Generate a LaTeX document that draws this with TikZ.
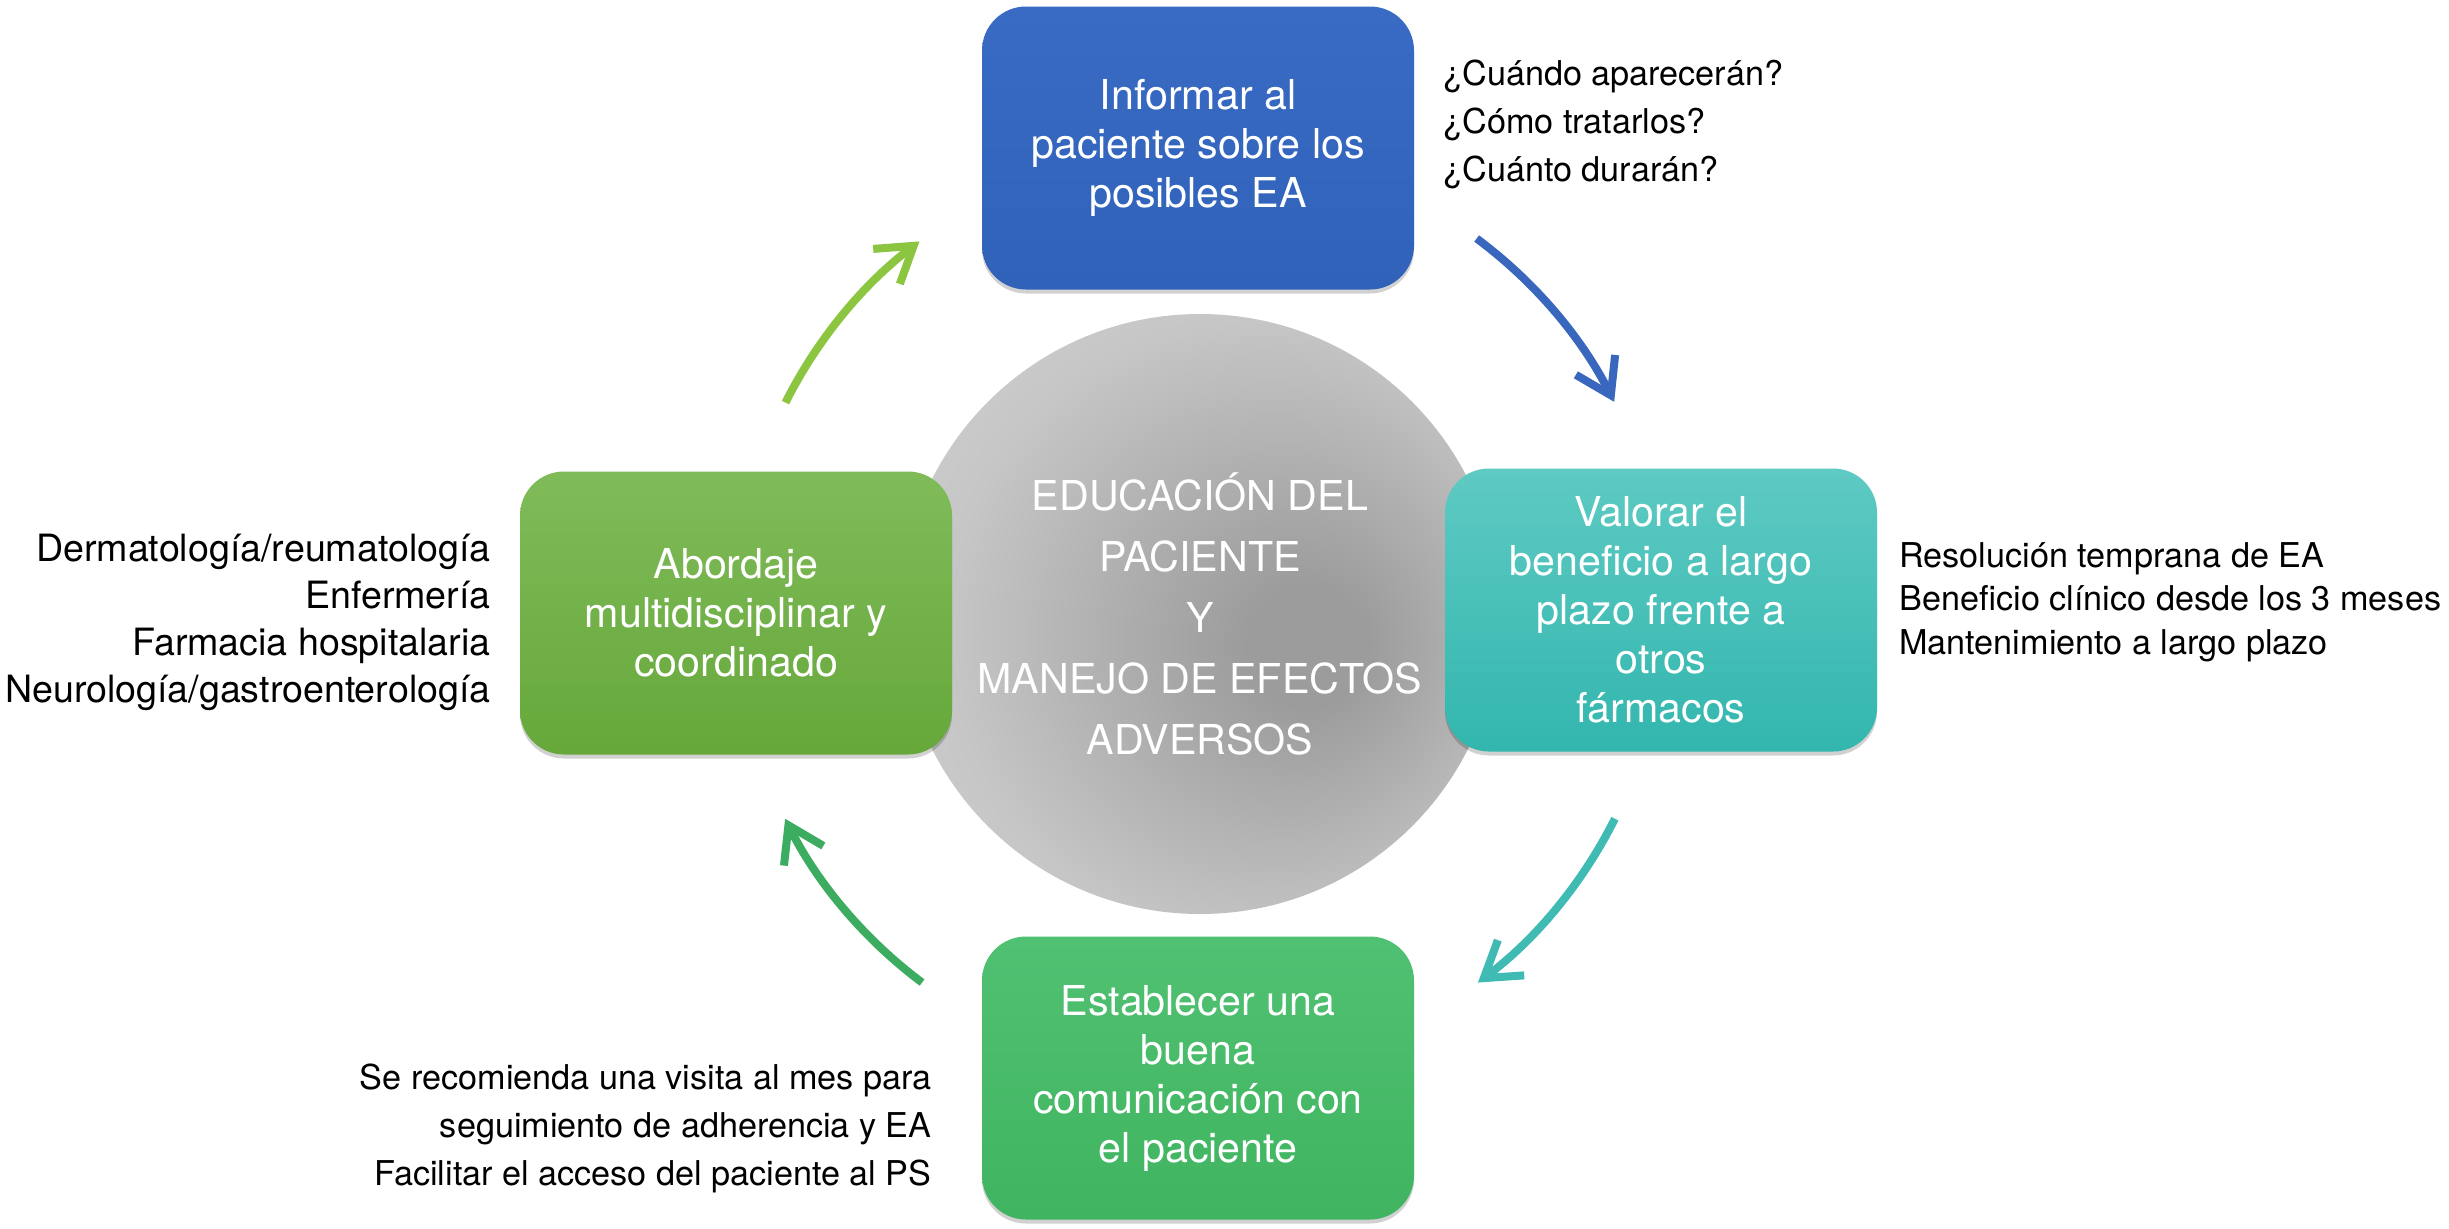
\documentclass[tikz,border=0pt]{standalone}
\usepackage{fontspec}
\setmainfont{TeX Gyre Heros}
\usetikzlibrary{arrows.meta,shadows,calc}

\definecolor{blueTop}{RGB}{57,107,196}
\definecolor{blueBot}{RGB}{49,98,186}
\definecolor{tealTop}{RGB}{94,202,195}
\definecolor{tealBot}{RGB}{50,182,174}
\definecolor{lgTop}{RGB}{128,187,90}
\definecolor{lgBot}{RGB}{102,168,58}
\definecolor{bgTop}{RGB}{80,193,114}
\definecolor{bgBot}{RGB}{64,180,96}
\definecolor{arrBlue}{RGB}{58,103,190}
\definecolor{arrLight}{RGB}{140,198,65}
\definecolor{arrTeal}{RGB}{63,187,180}
\definecolor{arrGreen}{RGB}{60,172,96}
\definecolor{hubA}{RGB}{156,156,156}
\definecolor{hubB}{RGB}{198,198,198}
\definecolor{hubC}{RGB}{216,216,216}
\definecolor{hubD}{RGB}{222,222,222}

\pgfdeclareradialshading{hubshade}{\pgfpoint{10bp}{-3bp}}{%
  color(0bp)=(hubA); color(5bp)=(hubA); color(26bp)=(hubB); color(42bp)=(hubC); color(50bp)=(hubD)}

\tikzset{
  boxstyle/.style={rounded corners=22pt, minimum width=216pt, minimum height=141.5pt,
    inner sep=0pt, align=center, text=white,
    font=\fontsize{20.6pt}{24.5pt}\selectfont,
    drop shadow={shadow xshift=0pt, shadow yshift=-2pt, opacity=0.18, fill=black}},
  hubstyle/.style={circle, minimum size=300pt, inner sep=0pt, shading=hubshade,
    align=center, text=white, font=\fontsize{20.6pt}{30.6pt}\selectfont},
  sidetext/.style={inner sep=0pt, text=black, font=\fontsize{17.1pt}{20pt}\selectfont},
  lefttext/.style={inner sep=0pt, text=black, font=\fontsize{18.8pt}{22pt}\selectfont},
  arrowline/.style={line width=4pt, line cap=butt,
    -{Straight Barb[sharp, length=17pt, width=22pt]}}
}

\begin{document}
\begin{tikzpicture}[x=0.5pt, y=-0.5pt]
\fill[white] (0,0) rectangle (2449,1228);
\useasboundingbox (0,0) rectangle (2449,1228);

% central hub
\node[hubstyle] (hub) at (1200,614) {EDUCACIÓN DEL\\PACIENTE\\Y\\MANEJO DE EFECTOS\\ADVERSOS};

% boxes
\node[boxstyle, top color=blueTop, bottom color=blueBot] (info) at (1198,148)
  {Informar al\\paciente sobre los\\posibles EA};
\node[boxstyle, top color=tealTop, bottom color=tealBot] (valor) at (1661,610)
  {Valorar el\\beneficio a largo\\plazo frente a\\otros\\fármacos};
\node[boxstyle, top color=lgTop, bottom color=lgBot] (abord) at (736,613)
  {Abordaje\\multidisciplinar y\\coordinado};
\node[boxstyle, top color=bgTop, bottom color=bgBot] (estab) at (1198,1078)
  {Establecer una\\buena\\comunicación con\\el paciente};

% arrows (arcs around the hub)
\draw[arrowline, arrBlue] ($(hub.center)+(0,1.5pt)+(53.4:232pt)$) arc[start angle=53.4, end angle=26.8, radius=232pt];
\draw[arrowline, arrTeal] ($(hub.center)+(0,1.5pt)+(-26.6:232pt)$) arc[start angle=-26.6, end angle=-53.2, radius=232pt];
\draw[arrowline, arrGreen] ($(hub.center)+(0,1.5pt)+(-126.8:232pt)$) arc[start angle=-126.8, end angle=-153.4, radius=232pt];
\draw[arrowline, arrLight] ($(hub.center)+(0,1.5pt)+(153.3:232pt)$) arc[start angle=153.3, end angle=127.2, radius=232pt];

% top-right questions
\node[sidetext, anchor=base west] (q1) at (1443,85) {¿Cuándo aparecerán?};
\node[sidetext, anchor=base west] (q2) at (1443,133) {¿Cómo tratarlos?};
\node[sidetext, anchor=base west] (q3) at (1443,181) {¿Cuánto durarán?};

% right notes
\node[sidetext, anchor=base west] (r1) at (1899,567) {Resolución temprana de EA};
\node[sidetext, anchor=base west] (r2) at (1899,610) {Beneficio clínico desde los 3 meses};
\node[sidetext, anchor=base west] (r3) at (1899,654) {Mantenimiento a largo plazo};

% left notes
\node[lefttext, anchor=base east] (l1) at (491,561) {Dermatología/reumatología};
\node[lefttext, anchor=base east] (l2) at (491,608) {Enfermería};
\node[lefttext, anchor=base east] (l3) at (491,655) {Farmacia hospitalaria};
\node[lefttext, anchor=base east] (l4) at (491,702) {Neurología/gastroenterología};

% bottom-left notes
\node[sidetext, anchor=base east] (b1) at (932,1089) {Se recomienda una visita al mes para};
\node[sidetext, anchor=base east] (b2) at (932,1137) {seguimiento de adherencia y EA};
\node[sidetext, anchor=base east] (b3) at (932,1185) {Facilitar el acceso del paciente al PS};
\end{tikzpicture}
\end{document}
